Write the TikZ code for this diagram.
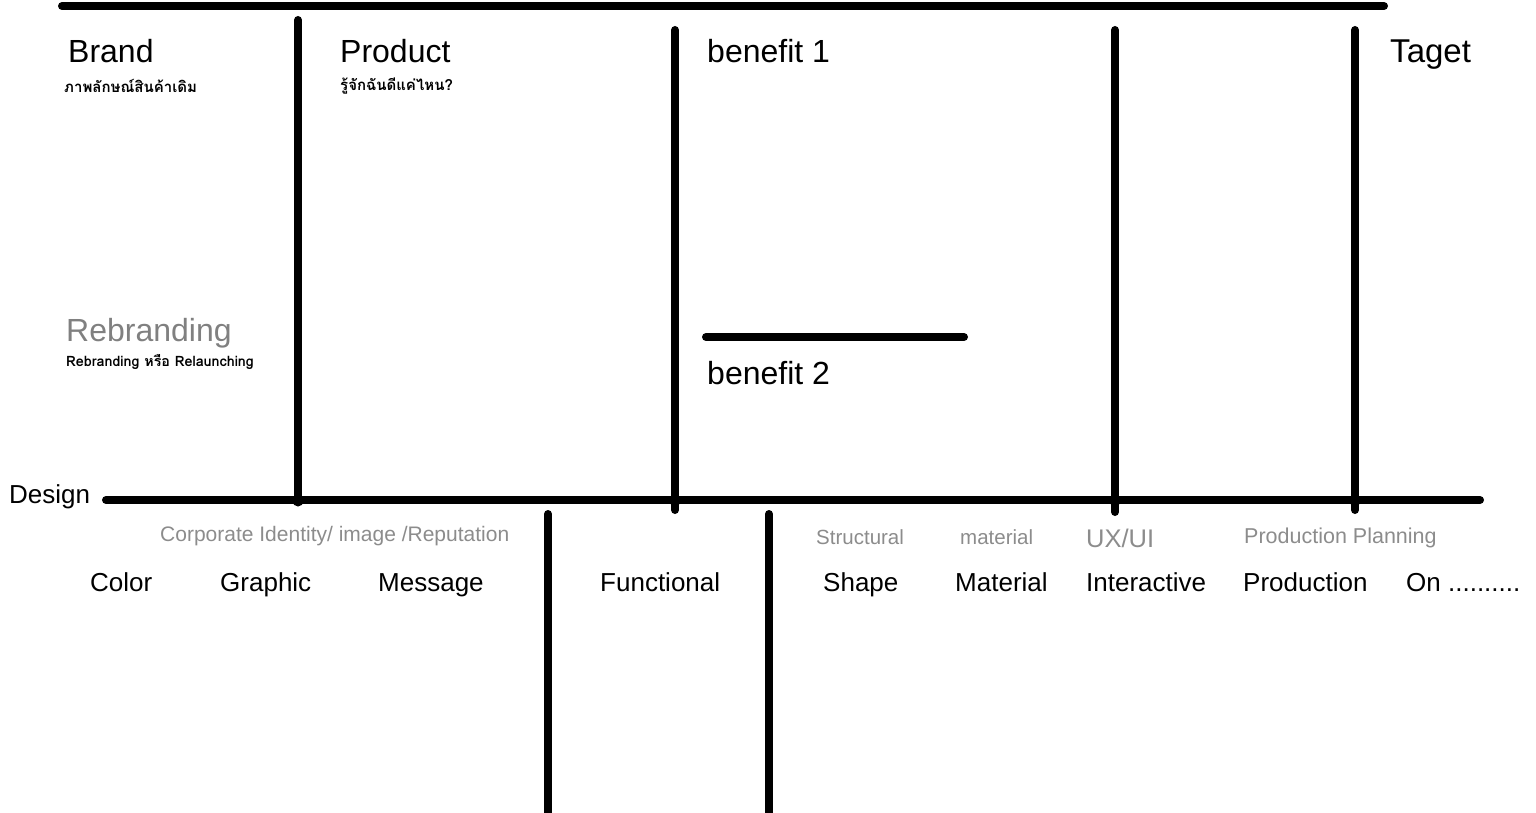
\documentclass[tikz,border=0pt]{standalone}
\usepackage{fontspec}
\setmainfont{Liberation Sans}
\newfontfamily\thai[Script=Thai]{Loma}
\begin{document}
\begin{tikzpicture}[x=1pt,y=-1pt,
  bar/.style={line width=8pt,line cap=round,black},
  big/.style={anchor=base west,inner sep=0pt,font=\fontsize{32}{34}\selectfont},
  mid/.style={anchor=base west,inner sep=0pt,font=\fontsize{26}{28}\selectfont},
  sub/.style={anchor=base west,inner sep=0pt,font=\fontsize{15}{17}\thai\bfseries},
  grey/.style={anchor=base west,inner sep=0pt,text=black!45,font=\fontsize{21}{23}\selectfont},
  dot/.style={circle,fill=black,inner sep=0pt,minimum size=11pt}]
\useasboundingbox (0,0) rectangle (1536,813);
% coordinates
\coordinate (t1) at (62,6); \coordinate (t2) at (1384,6);
\coordinate (d1) at (106,500); \coordinate (d2) at (1480,500);
\coordinate (v1a) at (298,20); \coordinate (v1b) at (298,500);
\coordinate (v2a) at (675,30); \coordinate (v2b) at (675,510);
\coordinate (v3a) at (1115,30); \coordinate (v3b) at (1115,512);
\coordinate (v4a) at (1355,30); \coordinate (v4b) at (1355,510);
\coordinate (l1a) at (548,514); \coordinate (l1b) at (548,815);
\coordinate (l2a) at (769,514); \coordinate (l2b) at (769,815);
\coordinate (b1) at (706,337); \coordinate (b2) at (964,337);
% lines
\draw[bar] (t1) -- (t2);
\draw[bar] (d1) -- (d2);
\draw[bar] (v1a) -- (v1b);
\draw[bar] (v2a) -- (v2b);
\draw[bar] (v3a) -- (v3b);
\draw[bar] (v4a) -- (v4b);
\draw[bar] (l1a) -- (l1b);
\draw[bar] (l2a) -- (l2b);
\draw[bar] (b1) -- (b2);
\node[dot] (j1) at (298,501) {};
\node[dot] (j2) at (675,501) {};
\node[dot] (j3) at (1115,501) {};
\node[dot] (j4) at (1355,501) {};
% top texts
\node[big] (brand) at (68,63) {Brand};
\node[sub] (brandth) at (64,93) {ภาพลักษณ์สินค้าเดิม};
\node[big] (product) at (340,63) {Product};
\node[sub] (productth) at (340,91) {รู้จักฉันดีแค่ไหน?};
\node[big] (ben1) at (707,63) {benefit 1};
\node[big,font=\fontsize{33}{35}\selectfont] (taget) at (1390,63) {Taget};
\node[big,text=black!50] (rebr) at (66,341) {Rebranding};
\node[sub,font=\fontsize{14.3}{16}\thai\bfseries] (rebrth) at (66,366) {Rebranding หรือ Relaunching};
\node[big] (ben2) at (707,384) {benefit 2};
% design row
\node[mid] (design) at (9,503) {Design};
\node[grey] (corp) at (160,541) {Corporate Identity/ image /Reputation};
\node[grey,font=\fontsize{20.5}{22}\selectfont] (struct) at (816,544) {Structural};
\node[grey,font=\fontsize{20.5}{22}\selectfont] (mat) at (960,544) {material};
\node[grey,font=\fontsize{25.5}{27}\selectfont] (uxui) at (1086,547) {UX/UI};
\node[grey,font=\fontsize{21.5}{23}\selectfont] (pp) at (1244,543) {Production Planning};
\node[mid] (color) at (90,591) {Color};
\node[mid] (graphic) at (220,591) {Graphic};
\node[mid] (message) at (378,591) {Message};
\node[mid] (func) at (600,591) {Functional};
\node[mid] (shape) at (823,591) {Shape};
\node[mid] (material) at (955,591) {Material};
\node[mid] (inter) at (1086,591) {Interactive};
\node[mid] (prod) at (1243,591) {Production};
\node[mid] (on) at (1406,591) {On ..........};
\end{tikzpicture}
\end{document}
